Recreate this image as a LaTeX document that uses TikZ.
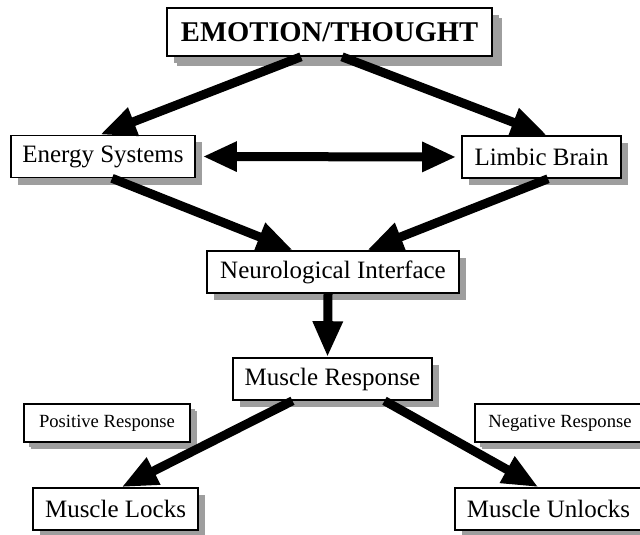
\documentclass[tikz,border=0pt]{standalone}
\usepackage{fontspec}
\setmainfont{Liberation Serif}
\usetikzlibrary{arrows.meta,shadows}

\tikzset{
  box/.style={draw, line width=0.8pt, fill=white, inner sep=0pt,
    minimum height=21pt, font=\fontsize{12.5}{14}\selectfont,
    drop shadow={shadow xshift=3.5pt, shadow yshift=-3.5pt, fill=black!38, opacity=1}},
  smallbox/.style={box, minimum height=19pt, font=\fontsize{9.3}{11}\selectfont,
    drop shadow={shadow xshift=2.5pt, shadow yshift=-2.5pt, fill=black!38, opacity=1}},
  bigarrow/.style={line width=4.5pt, -{Triangle[length=18pt,width=14pt]}},
  bothway/.style={line width=4.5pt, {Triangle[length=17pt,width=14pt]}-{Triangle[length=17pt,width=14pt]}}
}

\begin{document}
\begin{tikzpicture}[x=0.5pt,y=-0.5pt]
\useasboundingbox (0,0) rectangle (640,534);

% boxes
\node[box, minimum width=162.5pt, minimum height=24pt, font=\bfseries\fontsize{14.3}{16}\selectfont,
  drop shadow={shadow xshift=5pt, shadow yshift=-5pt, fill=black!38, opacity=1}]
  (emotion) at (329.5,32) {EMOTION/THOUGHT};
\node[box, minimum width=92pt] (energy) at (103,156.5) {Energy Systems};
\node[box, minimum width=79.5pt] (limbic) at (541.5,157) {Limbic Brain};
\node[box, minimum width=126pt] (neuro) at (333,272) {Neurological Interface};
\node[box, minimum width=99.5pt] (response) at (332.5,379) {Muscle Response};
\node[smallbox, minimum width=83pt] (positive) at (107,423) {Positive Response};
\node[smallbox, minimum width=85pt] (negative) at (560,423) {Negative Response};
\node[box, minimum width=82.5pt] (locks) at (115.5,509) {Muscle Locks};
\node[box, minimum width=93.5pt] (unlocks) at (548.5,509) {Muscle Unlocks};

% arrows
\draw[bigarrow] ([xshift=-14.25pt]emotion.south) -- ([xshift=-1.5pt]energy.north);
\draw[bigarrow] ([xshift=6.25pt]emotion.south) -- ([xshift=2.75pt]limbic.north);
\draw[bothway, shorten <=3.5pt, shorten >=2.5pt] (energy.east) -- (limbic.west);
\draw[bigarrow] ([xshift=4.5pt]energy.south) -- ([xshift=-20pt]neuro.north);
\draw[bigarrow] ([xshift=3.25pt]limbic.south) -- ([xshift=17pt]neuro.north);
\draw[bigarrow] ([xshift=-2.5pt]neuro.south) -- ([xshift=-2.5pt]response.north);
\draw[bigarrow] ([xshift=-20pt]response.south) -- ([xshift=3pt]locks.north);
\draw[bigarrow] ([xshift=26pt]response.south) -- ([xshift=-5pt]unlocks.north);
\end{tikzpicture}
\end{document}
